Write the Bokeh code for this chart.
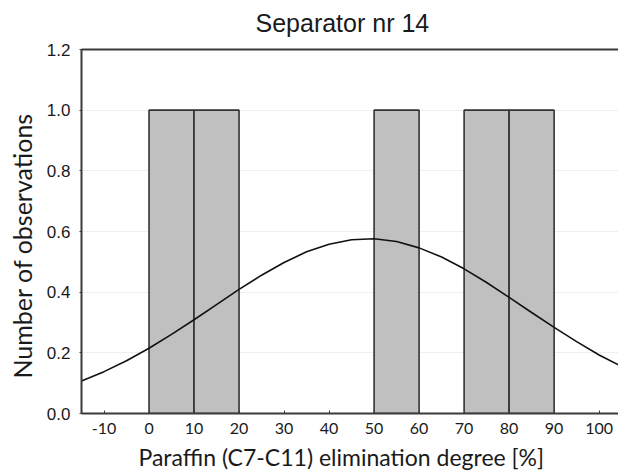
from bokeh.plotting import figure
from bokeh.models import Range1d, LinearAxis, FixedTicker, Title, PrintfTickFormatter, ColumnDataSource
from bokeh.embed import file_html
from bokeh.resources import INLINE

# ---- data ----
bin_left = [0, 10, 50, 70, 80]
bin_right = [10, 20, 60, 80, 90]
counts = [1, 1, 1, 1, 1]

curve_x = [-15, -10, -5, 0, 5, 10, 15, 20, 25, 30, 35, 40, 45, 50,
           55, 60, 65, 70, 75, 80, 85, 90, 95, 100, 105]
curve_y = [0.107, 0.138, 0.174, 0.215, 0.261, 0.309, 0.359, 0.409, 0.456, 0.498,
           0.533, 0.558, 0.573, 0.576, 0.567, 0.546, 0.516, 0.477, 0.432, 0.383,
           0.333, 0.284, 0.237, 0.193, 0.155]

x_ticks = [-10, 0, 10, 20, 30, 40, 50, 60, 70, 80, 90, 100]
x_tick_labels = ["-10", "0", "10", "20", "30", "40", "50", "60", "70", "80", "90", "100"]
y_ticks = [0.0, 0.2, 0.4, 0.6, 0.8, 1.0, 1.2]

title_text = "Separator nr 14"
x_title = "Paraffin (C7-C11) elimination degree [%]"
y_title = "Number of observations"

AX = "#3a3a3a"
TXT = "#1a1a1a"

p = figure(width=618, height=475, output_backend="svg", toolbar_location=None,
           x_range=Range1d(-15, 104.3), y_range=Range1d(0, 1.2),
           min_border_left=81, min_border_right=0, min_border_top=49,
           min_border_bottom=62, outline_line_color=None,
           background_fill_color="white", border_fill_color="white")

p.title.text = title_text
p.title.align = "left"
p.title.offset = 174
p.title.text_font = "Liberation Sans"
p.title.text_font_size = "25px"
p.title.text_font_style = "normal"
p.title.text_color = TXT
p.title.standoff = 0

# grid
p.xgrid.grid_line_color = None
p.ygrid.grid_line_color = "#efefef"
p.ygrid.ticker = FixedTicker(ticks=y_ticks)

# bars
src = ColumnDataSource(dict(left=bin_left, right=bin_right, top=counts))
p.quad(left="left", right="right", bottom=0, top="top", source=src,
       fill_color="#c0c0c0", line_color="#333333", line_width=1.6)

# fitted curve
p.line(curve_x, curve_y, line_color="#111111", line_width=1.6)

# x axis
xa = p.xaxis[0]
xa.ticker = FixedTicker(ticks=x_ticks)
xa.major_label_overrides = {t: s for t, s in zip(x_ticks, x_tick_labels)}
xa.axis_line_color = AX
xa.axis_line_width = 2
xa.major_tick_in = 3
xa.major_tick_out = 0
xa.major_tick_line_color = AX
xa.minor_tick_line_color = None
xa.major_label_standoff = 9
xa.major_label_text_font = "Lato"
xa.major_label_text_font_size = "16px"
xa.major_label_text_color = TXT

# y axis
ya = p.yaxis[0]
ya.ticker = FixedTicker(ticks=y_ticks)
ya.formatter = PrintfTickFormatter(format="%.1f")
ya.axis_line_color = AX
ya.axis_line_width = 2
ya.major_tick_in = 0
ya.major_tick_out = 2
ya.major_tick_line_color = AX
ya.minor_tick_line_color = None
ya.major_label_standoff = 9
ya.major_label_text_font = "Liberation Sans"
ya.major_label_text_font_size = "17px"
ya.major_label_text_color = TXT
# blank spacer between tick labels and the axis title
ya.axis_label = " "
ya.axis_label_text_font_size = "1px"
ya.axis_label_standoff = 3

# top border line (with a blank spacer under the title)
top = LinearAxis(ticker=FixedTicker(ticks=[]), axis_line_color=AX, axis_line_width=2,
                 major_tick_line_color=None, minor_tick_line_color=None,
                 major_tick_out=0, major_tick_in=0,
                 major_label_text_font_size="0px",
                 axis_label=" ", axis_label_text_font_size="1px",
                 axis_label_standoff=9)
p.add_layout(top, "above")

# axis titles
xt = Title(text=x_title, align="left", offset=57, text_font="Lato",
           text_font_size="23px", text_font_style="normal", text_color=TXT,
           standoff=9)
p.add_layout(xt, "below")

yt = Title(text=y_title, align="left", offset=35, text_font="Lato",
           text_font_size="25px", text_font_style="normal", text_color=TXT,
           standoff=0)
p.add_layout(yt, "left")

open("out.html", "w").write(file_html(p, INLINE))
